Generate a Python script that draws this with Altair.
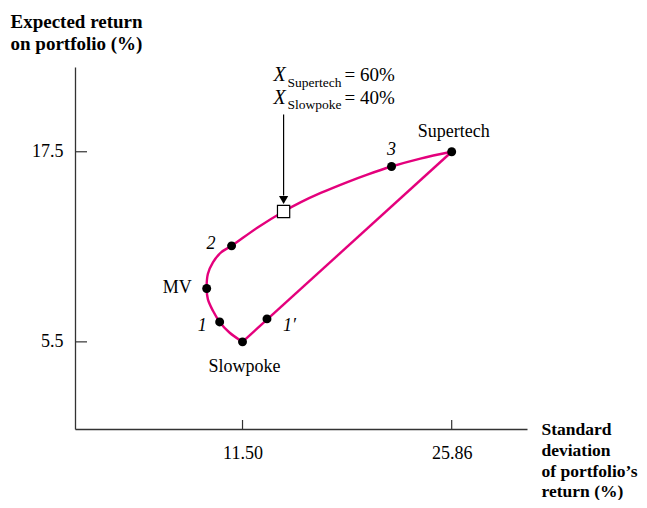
import altair as alt
import pandas as pd

# ---- data ----
curve_sd = [11.50, 10.60, 9.93, 9.47, 9.12, 9.04, 9.12, 9.47, 10.03, 10.75,
            12.54, 14.32, 15.51, 16.87, 18.70, 20.07, 21.73, 23.71, 25.86]
curve_ret = [5.50, 6.09, 6.76, 7.46, 8.20, 8.87, 9.78, 10.52, 11.15, 11.56,
             12.72, 13.73, 14.32, 14.90, 15.59, 16.06, 16.57, 17.07, 17.50]

line_sd = [11.50, 25.86]
line_ret = [5.50, 17.50]

pt_names = ["Slowpoke", "1", "MV", "2", "3", "Supertech", "1′"]
pt_sd = [11.50, 9.93, 9.04, 10.75, 21.73, 25.86, 13.18]
pt_ret = [5.50, 6.76, 8.87, 11.56, 16.57, 17.50, 6.95]

sq_sd = [14.32]
sq_ret = [13.73]

x_ticks = [11.50, 25.86]
y_ticks = [5.5, 17.5]

x_title = ["Standard", "deviation", "of portfolio’s", "return (%)"]
y_title = ["Expected return", "on portfolio (%)"]

# ---- styling ----
W, H = 452, 362
FONT = "Liberation Serif"
PINK = "#E4007C"
AX = "#333333"

xs = alt.Scale(domain=[0, 31.03], nice=False, zero=False)
ys = alt.Scale(domain=[0, 22.85], nice=False, zero=False)

x_axis = alt.Axis(values=x_ticks, format=".2f", title=x_title, grid=False, ticks=False,
                  domainColor=AX, domainWidth=1.3,
                  labelFont=FONT, labelFontSize=18, labelColor="black",
                  labelBaseline="alphabetic", labelPadding=29,
                  titleFont=FONT, titleFontSize=17.5, titleFontWeight="bold", titleColor="black",
                  titleAlign="left", titleBaseline="alphabetic", titleAnchor="start",
                  titleX=466, titleY=5.5, titleLineHeight=20.8)
y_axis = alt.Axis(values=y_ticks, format=".1f", title=y_title, grid=False, ticks=False,
                  domainColor=AX, domainWidth=1.3,
                  labelFont=FONT, labelFontSize=18, labelColor="black", labelPadding=12,
                  titleFont=FONT, titleFontSize=19, titleFontWeight="bold", titleColor="black",
                  titleAngle=0, titleAlign="left", titleBaseline="alphabetic", titleAnchor="start",
                  titleX=-65, titleY=-40, titleLineHeight=22.8)


def X():
    return alt.X("sd:Q", scale=xs, axis=x_axis)


def Y():
    return alt.Y("ret:Q", scale=ys, axis=y_axis)


curve_df = pd.DataFrame({"sd": curve_sd, "ret": curve_ret, "i": list(range(len(curve_sd)))})
line_df = pd.DataFrame({"sd": line_sd, "ret": line_ret})
pts_df = pd.DataFrame({"name": pt_names, "sd": pt_sd, "ret": pt_ret})
sq_df = pd.DataFrame({"sd": sq_sd, "ret": sq_ret})
xt_df = pd.DataFrame({"sd": x_ticks})
yt_df = pd.DataFrame({"ret": y_ticks})

curve = alt.Chart(curve_df).mark_line(color=PINK, strokeWidth=2.4, interpolate="catmull-rom").encode(
    x=X(), y=Y(), order=alt.Order("i:Q"))
straight = alt.Chart(line_df).mark_line(color=PINK, strokeWidth=2.4).encode(x=X(), y=Y())

dots = alt.Chart(pts_df).mark_point(filled=True, color="black", size=80, opacity=1).encode(x=X(), y=Y())

xticks = alt.Chart(xt_df).mark_rule(color=AX, strokeWidth=1.2).encode(
    x=X(), y=alt.value(H), y2=alt.value(H - 9))
yticks = alt.Chart(yt_df).mark_rule(color=AX, strokeWidth=1.2).encode(
    y=Y(), x=alt.value(0), x2=alt.value(12))

arrow = alt.Chart(sq_df).mark_rule(color="black", strokeWidth=1.2, yOffset=-97, y2Offset=-16).encode(
    x=X(), y=Y(), y2="ret:Q")
head = alt.Chart(sq_df).mark_point(shape="triangle-down", filled=True, color="black", size=85,
                                   opacity=1, yOffset=-11.5).encode(x=X(), y=Y())
square = alt.Chart(sq_df).mark_point(shape="square", filled=True, fill="white", stroke="black",
                                     strokeWidth=1.2, size=150, opacity=1).encode(x=X(), y=Y())


def label(name, dx, dy, align="left", style="normal", size=18):
    return alt.Chart(pts_df).transform_filter(alt.datum.name == name).mark_text(
        dx=dx, dy=dy, align=align, baseline="alphabetic", font=FONT, fontSize=size,
        fontStyle=style, color="black").encode(x=X(), y=Y(), text="name:N")


labels = [
    label("Supertech", 2, -15, "center"),
    label("3", 0, -11, "center", "italic"),
    label("2", -16, 3, "right", "italic"),
    label("MV", -15, 5, "right"),
    label("1", -13, 9, "right", "italic"),
    label("1′", 16, 12, "left", "italic"),
    label("Slowpoke", 2, 30, "center"),
]


def ann(text, dx, dy, size=19, style="normal"):
    return alt.Chart(sq_df).mark_text(text=text, dx=dx, dy=dy, align="left", baseline="alphabetic",
                                      font=FONT, fontSize=size, fontStyle=style,
                                      color="black").encode(x=X(), y=Y())


anns = [
    ann("X", -10, -130, 20, "italic"),
    ann("Supertech", 4, -124, 13.5),
    ann("= 60%", 61, -130, 19),
    ann("X", -10, -107.5, 20, "italic"),
    ann("Slowpoke", 4, -102, 13.5),
    ann("= 40%", 61, -107.5, 19),
]

chart = alt.layer(curve, straight, xticks, yticks, arrow, head, square, dots, *labels, *anns).properties(
    width=W, height=H,
    autosize=alt.AutoSizeParams(type="none"),
    padding={"left": 67, "top": 59, "right": 112, "bottom": 71},
).configure_view(stroke=None)

chart.save("out.html", embed_options={"renderer": "svg", "actions": False})
